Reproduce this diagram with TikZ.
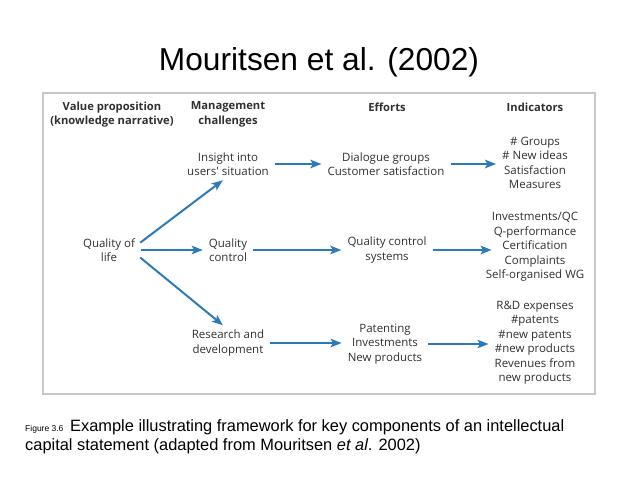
\documentclass[tikz,border=0pt]{standalone}
\usepackage{fontspec}
\setmainfont{Liberation Sans}
\newfontfamily\diafont{Open Sans}
\usetikzlibrary{arrows.meta}
\definecolor{txtgray}{HTML}{303030}
\definecolor{arrblue}{HTML}{2B7BBA}
\definecolor{framegray}{HTML}{C8C8C8}

\begin{document}
\begin{tikzpicture}[x=1pt,y=-1pt,
  lbl/.style={align=center, inner sep=2pt, text=txtgray, font=\diafont\fontsize{11.5}{14.5}\selectfont},
  head/.style={lbl, font=\diafont\bfseries\fontsize{11.2}{14.5}\selectfont},
  arr/.style={-{Stealth[length=11pt,width=8.5pt,inset=2.5pt]}, line width=2pt, arrblue, shorten <=4pt, shorten >=4pt}]
\useasboundingbox (0,0) rectangle (638,479);
%\draw[step=10,gray!30,very thin] (0,0) grid (638,479); %background grid
\node[font=\fontsize{31.7}{36}\selectfont] (title) at (319,62){Mouritsen et al. (2002)};
\draw[framegray, line width=1.5pt](43,93) rectangle (595,394);
% column heads
\node[head] (hval) at (112,114.5){Value proposition\\(knowledge narrative)};
\node[head] (hman) at (228,114.5){Management\\challenges};
\node[head] (heff) at (387,107){Efforts};
\node[head] (hind) at (535,107){Indicators};
% value
\node[lbl] (qol) at (109,250){Quality of\\life};
% challenges
\node[lbl] (ins) at (228,164){Insight into\\users' situation};
\node[lbl] (qc)  at (228,250){Quality\\control};
\node[lbl] (rd)  at (228,343){Research and\\development};
% efforts
\node[lbl] (dia) at (386,164){Dialogue groups\\Customer satisfaction};
\node[lbl] (qcs) at (387,250){Quality control\\systems};
\node[lbl] (pat) at (385,344){Patenting\\Investments\\New products};
% indicators
\node[lbl] (ind1) at (535,163){\# Groups\\\# New ideas\\Satisfaction\\Measures};
\node[lbl] (ind2) at (535,247){Investments/QC\\Q-performance\\Certification\\Complaints\\Self-organised WG};
\node[lbl] (ind3) at (535,342.5){R\&D expenses\\\#patents\\\#new patents\\\#new products\\Revenues from\\new products};
% arrows
\draw[arr]([yshift=5pt]qol.east) -- ([xshift=-2pt]ins.south);
\draw[arr](qol.east) -- (qc.west);
\draw[arr]([yshift=-5pt]qol.east) -- ([xshift=-2pt]rd.north);
\draw[arr](ins.east) -- (dia.west);
\draw[arr](qc.east) -- (qcs.west);
\draw[arr](rd.east) -- (rd.east -| pat.west);
\draw[arr](dia.east) -- (dia.east -| ind1.west);
\draw[arr](qcs.east) -- ([xshift=12pt]qcs.east -| ind2.west);
\draw[arr](pat.east) -- (pat.east -| ind3.west);
% caption
\node[anchor=base west, inner sep=0pt, font=\fontsize{8.5}{10}\selectfont] (fig) at (25,431){Figure 3.6};
\node[anchor=base west, inner sep=0pt, font=\fontsize{16.4}{18}\selectfont] (cap1) at (70,431){Example illustrating framework for key components of an intellectual};
\node[anchor=base west, inner sep=0pt, font=\fontsize{16.4}{18}\selectfont] (cap2) at (25,450){capital statement (adapted from Mouritsen \textit{et al}. 2002)};
\end{tikzpicture}
\end{document}
